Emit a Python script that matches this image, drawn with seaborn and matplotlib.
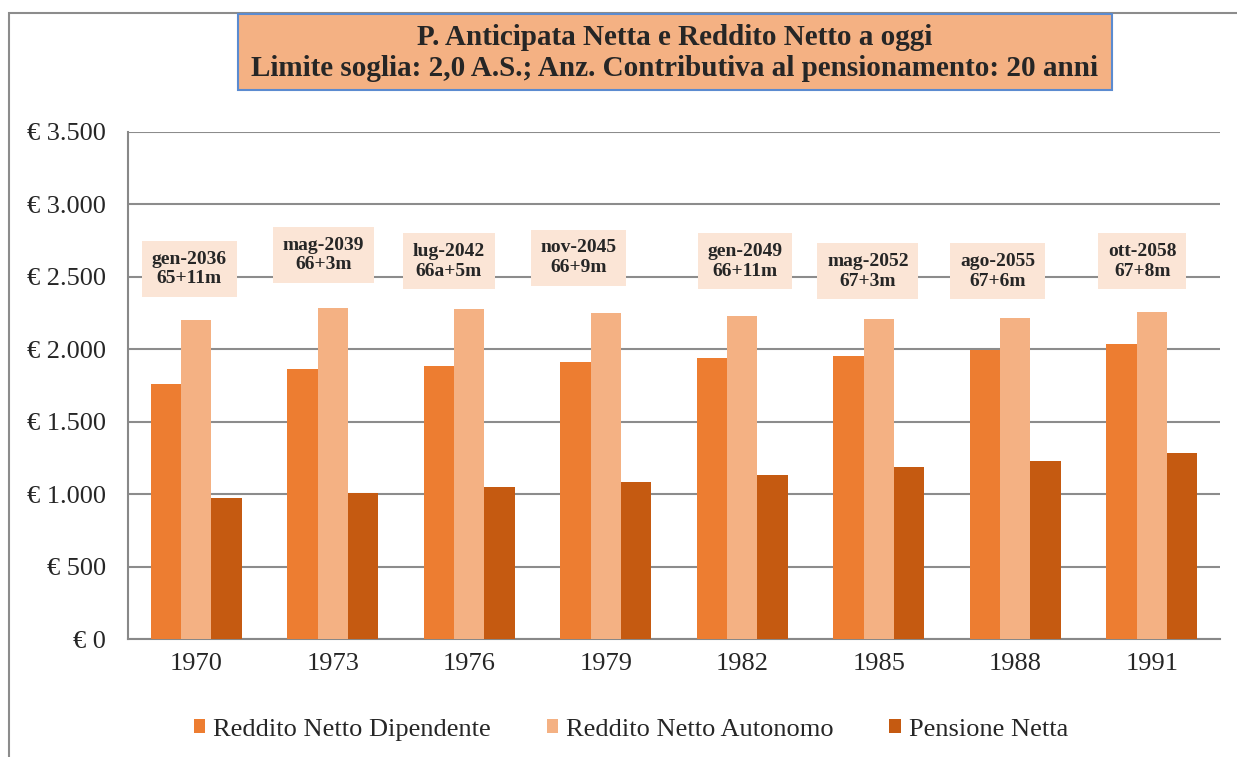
import pandas as pd
import matplotlib.pyplot as plt
import seaborn as sns
from matplotlib.patches import Rectangle

anni = ["1970", "1973", "1976", "1979", "1982", "1985", "1988", "1991"]
dipendente = [1760, 1862, 1883, 1910, 1938, 1952, 1993, 2034]
autonomo = [2200, 2283, 2276, 2248, 2228, 2207, 2214, 2255]
pensione = [973, 1007, 1048, 1083, 1131, 1186, 1228, 1283]
uscita = ["gen-2036\n65+11m", "mag-2039\n66+3m", "lug-2042\n66a+5m", "nov-2045\n66+9m",
          "gen-2049\n66+11m", "mag-2052\n67+3m", "ago-2055\n67+6m", "ott-2058\n67+8m"]
# where the label boxes sit (x offset from category, y in euro)
lab_dx = [-0.05, -0.07, -0.15, -0.2, 0.02, -0.08, -0.13, -0.07]
lab_y = [2553, 2650, 2608, 2632, 2608, 2539, 2539, 2608]

serie = ["Reddito Netto Dipendente", "Reddito Netto Autonomo", "Pensione Netta"]
colori = ["#ED7D31", "#F4B183", "#C55A11"]

df = pd.DataFrame({"Anno": anni, serie[0]: dipendente, serie[1]: autonomo, serie[2]: pensione})
long = df.melt(id_vars="Anno", var_name="Serie", value_name="Valore")

sns.set_style("white")
plt.rcParams["font.family"] = ["Liberation Serif", "DejaVu Serif"]

fig = plt.figure(figsize=(12.37, 7.57), dpi=100)
ax = fig.add_axes([128 / 1237, 1 - 639 / 757, (1220 - 128) / 1237, (639 - 132) / 757])

sns.barplot(data=long, x="Anno", y="Valore", hue="Serie", hue_order=serie,
            palette=colori, width=0.667, gap=0, saturation=1, linewidth=0, ax=ax, zorder=3)

ax.set_ylim(0, 3500)
ax.set_xlim(-0.5, len(anni) - 0.5)
ax.set_yticks(range(0, 3501, 500))
ax.set_yticklabels(["€ 0" if v == 0 else "€ " + f"{v:,}".replace(",", ".") for v in range(0, 3501, 500)],
                   fontsize=19)
ax.tick_params(axis="y", length=8, color="#888888", width=1.5, pad=8)
ax.tick_params(axis="x", length=0, labelsize=19, pad=10)
ax.set_xticks([i + 0.5 for i in range(len(anni))], minor=True)
ax.tick_params(axis="x", which="minor", length=8, color="#888888", width=1.5)
ax.yaxis.grid(True, color="#8C8C8C", linewidth=1.5, zorder=0)
ax.set_axisbelow(True)
ax.set_xlabel("")
ax.set_ylabel("")
for s in ["top", "right"]:
    ax.spines[s].set_visible(False)
for s in ["left", "bottom"]:
    ax.spines[s].set_color("#888888")
    ax.spines[s].set_linewidth(1.5)

for i, t in enumerate(uscita):
    ax.text(i + lab_dx[i], lab_y[i], t, ha="center", va="center", fontsize=14, fontweight="bold",
            linespacing=1.2, zorder=5,
            bbox=dict(boxstyle="square,pad=0.5", facecolor="#FBE5D6", edgecolor="none"))

leg = ax.legend(loc="upper center", bbox_to_anchor=(631 / 1237, 1 - 695 / 757),
                bbox_transform=fig.transFigure, ncol=3, frameon=False,
                fontsize=19, handlelength=0.45, handleheight=0.45, handletextpad=0.3,
                columnspacing=2.1)

# title box
fig.text(675 / 1237, 1 - 53 / 757,
         "P. Anticipata Netta e Reddito Netto a oggi\nLimite soglia: 2,0 A.S.; Anz. Contributiva al pensionamento: 20 anni",
         ha="center", va="center", fontsize=21, fontweight="bold", linespacing=1.2)
fig.patches.append(Rectangle((238 / 1237, 1 - 90 / 757), (1112 - 238) / 1237, 76 / 757,
                             transform=fig.transFigure, facecolor="#F4B183", edgecolor="#5B8BD0",
                             linewidth=1.5, zorder=-1))
# outer chart frame
fig.patches.append(Rectangle((8.5 / 1237, -0.1), 1.2, 1.1 - 12.5 / 757,
                             transform=fig.transFigure, facecolor="none", edgecolor="#8C8C8C",
                             linewidth=1.5, zorder=-2))

fig.savefig("out.png", dpi=100)
